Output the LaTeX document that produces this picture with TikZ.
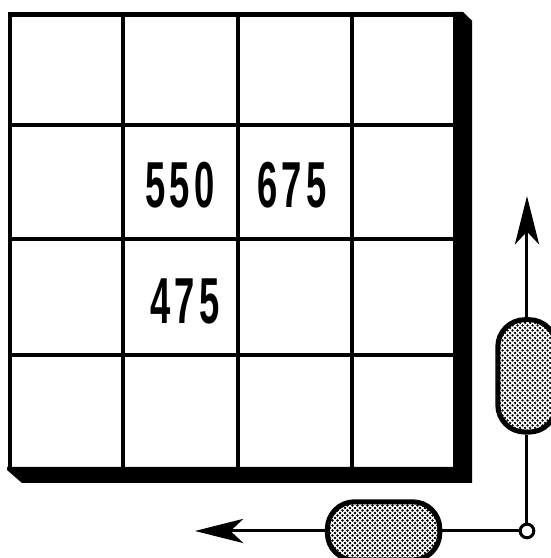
\documentclass[tikz,border=0pt]{standalone}
\usepackage{fontspec}
\usetikzlibrary{arrows.meta,patterns}
\newfontfamily\numfont[FakeStretch=0.56, LetterSpace=7]{Liberation Sans}

% Rasterpunkte
\pgfdeclarepatternformonly{halftone}{\pgfqpoint{-1.4pt}{-1.4pt}}{\pgfqpoint{3.9pt}{3.9pt}}{\pgfqpoint{5pt}{5pt}}{
  \pgfpathcircle{\pgfqpoint{0pt}{0pt}}{1.3pt}
  \pgfpathcircle{\pgfqpoint{2.5pt}{2.5pt}}{1.3pt}
  \pgfusepath{fill}
}

\begin{document}
\begin{tikzpicture}[
    gridline/.style={line width=4.5pt, line cap=rect},
    shadow/.style={fill=black},
    value/.style={font=\numfont\bfseries\fontsize{65}{70}\selectfont, inner sep=0pt},
    resistor/.style={draw, line width=5pt, rounded corners=0.95cm, pattern=halftone, inner sep=0pt},
    wire/.style={line width=3pt},
    arrow/.style={wire, -{Stealth[length=1.7cm, width=0.85cm, inset=0.45cm]}},
    junction/.style={circle, draw, fill=white, line width=3pt, minimum size=0.48cm, inner sep=0pt}
]
\useasboundingbox (0,0) rectangle (19.33,19.61);

% Raster
\foreach \x in {0.35,4.32,8.37,12.37}
  \draw[gridline] (\x,3.2) -- (\x,19.10);
\foreach \y in {19.10,15.22,11.21,7.14}
  \draw[gridline] (0.35,\y) -- (15.92,\y);
\fill[shadow] (15.92,19.19) -- (16.27,19.19) -- (16.59,18.88) -- (16.59,2.64)
  -- (0.77,2.64) -- (0.25,3.09) -- (0.25,3.20) -- (15.92,3.20) -- cycle;

% Werte
\node[value] (v550) at (6.33,13.11) {550};
\node[value] (v675) at (10.26,13.11) {675};
\node[value] (v475) at (6.50,9.03) {475};

% Widerstaende
\node[resistor, minimum width=2.05cm, minimum height=3.95cm] (rv) at (18.52,6.40) {};
\node[resistor, minimum width=3.95cm, minimum height=2.05cm] (rh) at (13.48,0.95) {};
\node[junction] (jn) at (18.52,0.95) {};
\coordinate (up) at (18.52,12.72);
\coordinate (left) at (6.85,0.95);

% Leitungen
\draw[wire] (rv) -- (jn);
\draw[wire] (jn) -- (rh);
\draw[arrow] (rv) -- (up);
\draw[arrow] (rh) -- (left);

\end{tikzpicture}
\end{document}
